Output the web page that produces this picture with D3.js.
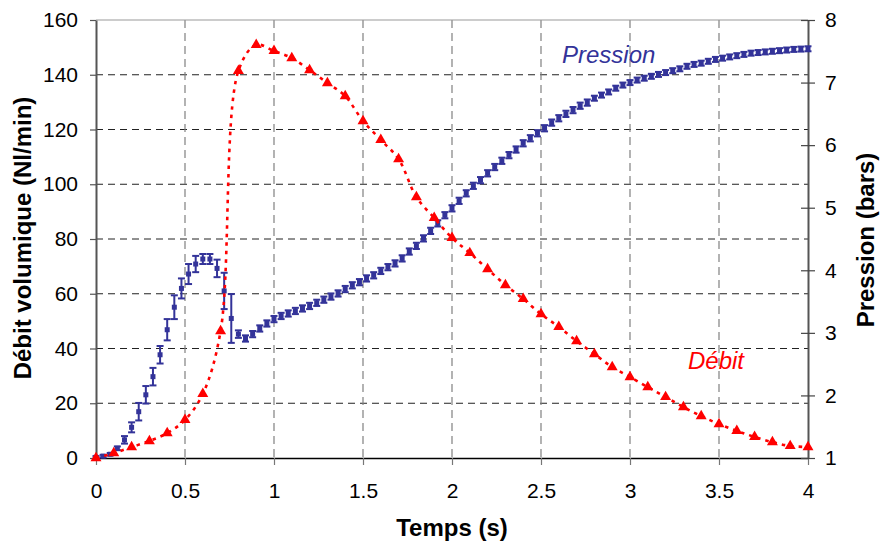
<!DOCTYPE html>
<html><head><meta charset="utf-8">
<script src="https://cdn.jsdelivr.net/npm/d3@7"></script>
<style>
body{margin:0;background:#fff}
svg{display:block;font-family:"Liberation Sans",Arial,Helvetica,sans-serif}
</style>
</head><body>
<svg id="chart" width="881" height="545"></svg>
<script>
// ---------- DATA ----------
const debitTimes = [0,0.1,0.2,0.3,0.4,0.5,0.6,0.7,0.8,0.9,1.0,1.1,1.2,1.3,1.4,1.5,1.6,1.7,1.8,1.9,2.0,
  2.1,2.2,2.3,2.4,2.5,2.6,2.7,2.8,2.9,3.0,3.1,3.2,3.3,3.4,3.5,3.6,3.7,3.8,3.9,4.0];
const debitValues = [0,1.8,4.0,6.2,9.1,13.9,23.4,46.4,141.4,150.9,148.7,146.1,141.7,137.0,132.2,123.1,116.2,109.2,95.3,87.7,80.4,
  74.9,69.0,63.2,58.1,52.6,47.9,42.7,38.0,33.2,29.6,25.9,22.3,18.6,15.3,12.4,9.9,7.7,5.8,4.4,4.0];

const pressionTimes = [0,0.04,0.08,0.12,0.16,0.2,0.24,0.28,0.32,0.36,0.4,0.44,0.48,0.52,0.56,0.6,0.64,0.68,0.72,0.76,
  0.8,0.84,0.88,0.92,0.96,1.0,1.04,1.08,1.12,1.16,1.2,1.24,1.28,1.32,1.36,1.4,1.44,1.48,1.52,1.56,
  1.6,1.64,1.68,1.72,1.76,1.8,1.84,1.88,1.92,1.96,2.0,2.04,2.08,2.12,2.16,2.2,2.24,2.28,2.32,2.36,
  2.4,2.44,2.48,2.52,2.56,2.6,2.64,2.68,2.72,2.76,2.8,2.84,2.88,2.92,2.96,3.0,3.04,3.08,3.12,3.16,
  3.2,3.24,3.28,3.32,3.36,3.4,3.44,3.48,3.52,3.56,3.6,3.64,3.68,3.72,3.76,3.8,3.84,3.88,3.92,3.96,4.0];
const pressionValues = [1.01,1.03,1.06,1.155,1.29,1.49,1.74,2.01,2.30,2.65,3.05,3.41,3.71,3.94,4.10,4.18,4.18,4.03,3.67,3.23,
  2.98,2.91,2.98,3.07,3.15,3.22,3.27,3.31,3.35,3.39,3.43,3.48,3.53,3.58,3.63,3.70,3.76,3.81,3.87,3.92,
  3.99,4.05,4.11,4.19,4.30,4.39,4.51,4.63,4.75,4.88,4.99,5.11,5.23,5.35,5.44,5.55,5.65,5.75,5.84,5.93,
  6.03,6.11,6.19,6.27,6.36,6.43,6.50,6.56,6.63,6.68,6.75,6.80,6.85,6.91,6.96,7.00,7.04,7.07,7.10,7.13,
  7.16,7.19,7.22,7.26,7.29,7.31,7.34,7.37,7.39,7.41,7.43,7.45,7.47,7.48,7.49,7.50,7.51,7.52,7.53,7.535,7.54];
const pressionErrors = [0.02,0.02,0.02,0.03,0.06,0.08,0.14,0.14,0.14,0.14,0.17,0.19,0.16,0.16,0.13,0.08,0.08,0.14,0.29,0.39,
  0.06,0.05,0.05,0.05,0.05,0.05,0.05,0.05,0.05,0.05,0.05,0.05,0.05,0.05,0.05,0.05,0.05,0.05,0.05,0.05,
  0.05,0.05,0.05,0.05,0.05,0.05,0.05,0.05,0.05,0.05,0.05,0.05,0.05,0.05,0.05,0.05,0.05,0.05,0.05,0.05,
  0.05,0.05,0.05,0.05,0.05,0.05,0.05,0.05,0.05,0.05,0.04,0.04,0.04,0.04,0.04,0.04,0.04,0.04,0.04,0.04,
  0.04,0.04,0.04,0.04,0.04,0.04,0.04,0.04,0.04,0.04,0.04,0.04,0.04,0.04,0.04,0.04,0.04,0.04,0.04,0.04,0.04];

const xTickValues = [0,0.5,1,1.5,2,2.5,3,3.5,4];
const xTickLabels = ["0","0.5","1","1.5","2","2.5","3","3.5","4"];
const leftTickValues = [0,20,40,60,80,100,120,140,160];
const rightTickValues = [1,2,3,4,5,6,7,8];
const rightTickLabels = ["1","2","3","4","5","6","7","8"];

// ---------- SCALES ----------
const svg = d3.select("#chart");
const x = d3.scaleLinear().domain([0,4]).range([96,808]);
const yL = d3.scaleLinear().domain([0,160]).range([458,20]);
const yR = d3.scaleLinear().domain([1,8]).range([458,20]);
const BLUE = "#333399", RED = "#ff0000";

// ---------- GRID ----------
const grid = svg.append("g");
grid.selectAll(".hg").data(leftTickValues.filter(v => v > 0 && v < 160)).join("line")
  .attr("x1", x(0)).attr("x2", x(4)).attr("y1", d => yL(d)).attr("y2", d => yL(d))
  .attr("stroke", "#222").attr("stroke-width", 1).attr("stroke-dasharray", "7,5");
grid.selectAll(".vg").data(xTickValues.filter(v => v > 0 && v < 4)).join("line")
  .attr("x1", d => x(d)).attr("x2", d => x(d)).attr("y1", yL(160)).attr("y2", yL(0))
  .attr("stroke", "#808080").attr("stroke-width", 1.2).attr("stroke-dasharray", "8,5");
grid.append("line").attr("x1", x(0)).attr("x2", x(4)).attr("y1", yL(160)).attr("y2", yL(160))
  .attr("stroke", "#9a9a9a").attr("stroke-width", 1.2);

// ---------- AXES ----------
const fs = "21px";
const ax = svg.append("g").attr("transform", `translate(0,${yL(0)})`)
  .call(d3.axisBottom(x).tickValues(xTickValues).tickFormat((d,i) => xTickLabels[i]).tickSize(7).tickPadding(18).tickSizeOuter(0));
ax.select(".domain").attr("stroke", "#000").attr("stroke-width", 1.6);
ax.selectAll(".tick line").attr("stroke", "#777").attr("stroke-width", 1.2);
ax.selectAll("text").attr("font-size", fs).attr("fill", "#000").attr("font-family", "Liberation Sans, Arial, sans-serif");

const ayl = svg.append("g").attr("transform", `translate(${x(0)},0)`)
  .call(d3.axisLeft(yL).tickValues(leftTickValues).tickFormat(d3.format("d")).tickSize(6).tickPadding(12).tickSizeOuter(0));
ayl.select(".domain").attr("stroke", "#555").attr("stroke-width", 2);
ayl.selectAll(".tick line").attr("stroke", "#555").attr("stroke-width", 1.2);
ayl.selectAll("text").attr("font-size", fs).attr("fill", "#000").attr("font-family", "Liberation Sans, Arial, sans-serif");

const ayr = svg.append("g").attr("transform", `translate(${x(4)},0)`)
  .call(d3.axisRight(yR).tickValues(rightTickValues).tickFormat((d,i) => rightTickLabels[i]).tickSize(7).tickPadding(10).tickSizeOuter(0));
ayr.select(".domain").attr("stroke", "#555").attr("stroke-width", 2);
ayr.selectAll(".tick line").attr("x1", -7).attr("stroke", "#444").attr("stroke-width", 1.2);
ayr.selectAll("text").attr("font-size", fs).attr("fill", "#000").attr("font-family", "Liberation Sans, Arial, sans-serif");

// ---------- PRESSION (markers + error bars) ----------
const pData = pressionTimes.map((t,i) => ({t, p: pressionValues[i], e: pressionErrors[i]}));
const pg = svg.append("g");
const eb = pg.selectAll("g.eb").data(pData).join("g");
eb.append("line").attr("x1", d => x(d.t)).attr("x2", d => x(d.t))
  .attr("y1", d => yR(d.p - d.e)).attr("y2", d => yR(d.p + d.e))
  .attr("stroke", BLUE).attr("stroke-width", 2);
eb.append("line").attr("x1", d => x(d.t) - 3.5).attr("x2", d => x(d.t) + 3.5)
  .attr("y1", d => yR(d.p - d.e)).attr("y2", d => yR(d.p - d.e))
  .attr("stroke", BLUE).attr("stroke-width", 2);
eb.append("line").attr("x1", d => x(d.t) - 3.5).attr("x2", d => x(d.t) + 3.5)
  .attr("y1", d => yR(d.p + d.e)).attr("y2", d => yR(d.p + d.e))
  .attr("stroke", BLUE).attr("stroke-width", 2);
pg.selectAll("rect").data(pData).join("rect")
  .attr("x", d => x(d.t) - 2.5).attr("y", d => yR(d.p) - 2.5)
  .attr("width", 5).attr("height", 5).attr("fill", BLUE);

// ---------- DEBIT (dotted smooth line + triangles) ----------
const dData = debitTimes.map((t,i) => ({t, v: debitValues[i]}));
svg.append("path").datum(dData)
  .attr("d", d3.line().x(d => x(d.t)).y(d => yL(d.v)).curve(d3.curveCatmullRom.alpha(0.5)))
  .attr("fill", "none").attr("stroke", RED).attr("stroke-width", 2.6).attr("stroke-dasharray", "3.5,5");
svg.append("g").selectAll("path").data(dData).join("path")
  .attr("transform", d => `translate(${x(d.t)},${yL(d.v)})`)
  .attr("d", d3.symbol(d3.symbolTriangle, 52))
  .attr("fill", RED);

// ---------- LABELS ----------
svg.append("text").attr("x", 562).attr("y", 63).attr("font-size", "24px").attr("font-style", "italic")
  .attr("fill", BLUE).text("Pression");
svg.append("text").attr("x", 688).attr("y", 369).attr("font-size", "24px").attr("font-style", "italic")
  .attr("fill", RED).text("Débit");

svg.append("text").attr("transform", "translate(31,238) rotate(-90)").attr("text-anchor", "middle")
  .attr("font-size", "24px").attr("font-weight", "bold").text("Débit volumique (Nl/min)");
svg.append("text").attr("transform", "translate(874,240) rotate(-90)").attr("text-anchor", "middle")
  .attr("font-size", "24px").attr("font-weight", "bold").text("Pression (bars)");
svg.append("text").attr("x", x(2)).attr("y", 536).attr("text-anchor", "middle")
  .attr("font-size", "24px").attr("font-weight", "bold").text("Temps (s)");
</script>
</body></html>
